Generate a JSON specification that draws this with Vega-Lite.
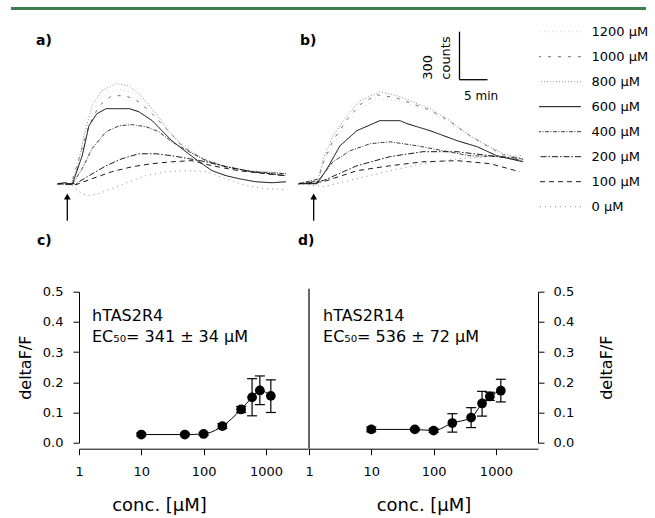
{
  "$schema": "https://vega.github.io/schema/vega-lite/v6.json",
  "autosize": {"type": "pad"},
  "padding": {"left": 9, "top": 6.7, "right": 0, "bottom": 0},
  "background": "white",
  "columns": 3,
  "align": "all",
  "bounds": "flush",
  "spacing": {"row": 62, "column": 0},
  "config": {
    "view": {"stroke": null},
    "font": "DejaVu Sans",
    "axis": {"domainColor": "#000", "tickColor": "#000", "labelColor": "#000", "titleColor": "#000", "titleFontWeight": "normal", "grid": false, "labelFont": "DejaVu Sans", "titleFont": "DejaVu Sans"},
    "text": {"color": "#000", "font": "DejaVu Sans"}
  },
  "datasets": {
    "traces": [
      {"p":"a","k":"1200 µM","t":0,"c":0},{"p":"a","k":"1200 µM","t":2.5,"c":-6},{"p":"a","k":"1200 µM","t":3.8,"c":120},{"p":"a","k":"1200 µM","t":5.2,"c":340},{"p":"a","k":"1200 µM","t":7,"c":500},{"p":"a","k":"1200 µM","t":9,"c":570},{"p":"a","k":"1200 µM","t":11.5,"c":590},{"p":"a","k":"1200 µM","t":14,"c":560},{"p":"a","k":"1200 µM","t":16.5,"c":480},{"p":"a","k":"1200 µM","t":19,"c":380},{"p":"a","k":"1200 µM","t":22,"c":260},{"p":"a","k":"1200 µM","t":25.5,"c":170},{"p":"a","k":"1200 µM","t":29.5,"c":115},{"p":"a","k":"1200 µM","t":34,"c":85},{"p":"a","k":"1200 µM","t":40.9,"c":65},
      {"p":"a","k":"1000 µM","t":0,"c":0},{"p":"a","k":"1000 µM","t":2.5,"c":-6},{"p":"a","k":"1000 µM","t":3.9,"c":156},{"p":"a","k":"1000 µM","t":5.7,"c":362},{"p":"a","k":"1000 µM","t":7.5,"c":487},{"p":"a","k":"1000 µM","t":9.8,"c":550},{"p":"a","k":"1000 µM","t":12.3,"c":550},{"p":"a","k":"1000 µM","t":14.6,"c":512},{"p":"a","k":"1000 µM","t":17,"c":437},{"p":"a","k":"1000 µM","t":19.5,"c":344},{"p":"a","k":"1000 µM","t":22.3,"c":237},{"p":"a","k":"1000 µM","t":25.9,"c":156},{"p":"a","k":"1000 µM","t":30.2,"c":106},{"p":"a","k":"1000 µM","t":34.8,"c":75},{"p":"a","k":"1000 µM","t":40.9,"c":50},
      {"p":"a","k":"800 µM","t":0,"c":0},{"p":"a","k":"800 µM","t":2.5,"c":-6},{"p":"a","k":"800 µM","t":3.6,"c":94},{"p":"a","k":"800 µM","t":4.8,"c":300},{"p":"a","k":"800 µM","t":6.25,"c":487},{"p":"a","k":"800 µM","t":8,"c":581},{"p":"a","k":"800 µM","t":10.5,"c":625},{"p":"a","k":"800 µM","t":12.9,"c":612},{"p":"a","k":"800 µM","t":15.2,"c":544},{"p":"a","k":"800 µM","t":17.7,"c":437},{"p":"a","k":"800 µM","t":20,"c":325},{"p":"a","k":"800 µM","t":23,"c":219},{"p":"a","k":"800 µM","t":26.6,"c":144},{"p":"a","k":"800 µM","t":30.2,"c":106},{"p":"a","k":"800 µM","t":33.75,"c":81},{"p":"a","k":"800 µM","t":37.3,"c":75},{"p":"a","k":"800 µM","t":40.9,"c":62},
      {"p":"a","k":"600 µM","t":0,"c":0},{"p":"a","k":"600 µM","t":1.5,"c":6},{"p":"a","k":"600 µM","t":2.7,"c":-6},{"p":"a","k":"600 µM","t":4.5,"c":175},{"p":"a","k":"600 µM","t":5.7,"c":362},{"p":"a","k":"600 µM","t":7.1,"c":437},{"p":"a","k":"600 µM","t":8.75,"c":469},{"p":"a","k":"600 µM","t":10.5,"c":469},{"p":"a","k":"600 µM","t":12.9,"c":469},{"p":"a","k":"600 µM","t":14.6,"c":450},{"p":"a","k":"600 µM","t":17,"c":394},{"p":"a","k":"600 µM","t":18.75,"c":331},{"p":"a","k":"600 µM","t":20.5,"c":269},{"p":"a","k":"600 µM","t":23,"c":200},{"p":"a","k":"600 µM","t":25.4,"c":137},{"p":"a","k":"600 µM","t":27.7,"c":81},{"p":"a","k":"600 µM","t":30.2,"c":50},{"p":"a","k":"600 µM","t":32.5,"c":31},{"p":"a","k":"600 µM","t":35.5,"c":12},{"p":"a","k":"600 µM","t":38.4,"c":6},{"p":"a","k":"600 µM","t":40.9,"c":12},
      {"p":"a","k":"400 µM","t":0,"c":0},{"p":"a","k":"400 µM","t":2.7,"c":-6},{"p":"a","k":"400 µM","t":4.5,"c":94},{"p":"a","k":"400 µM","t":6.25,"c":219},{"p":"a","k":"400 µM","t":8.75,"c":325},{"p":"a","k":"400 µM","t":11.1,"c":362},{"p":"a","k":"400 µM","t":13.4,"c":369},{"p":"a","k":"400 µM","t":15.9,"c":356},{"p":"a","k":"400 µM","t":18.2,"c":325},{"p":"a","k":"400 µM","t":20.5,"c":262},{"p":"a","k":"400 µM","t":23.6,"c":200},{"p":"a","k":"400 µM","t":26.6,"c":144},{"p":"a","k":"400 µM","t":30.2,"c":106},{"p":"a","k":"400 µM","t":34.8,"c":75},{"p":"a","k":"400 µM","t":40.9,"c":62},
      {"p":"a","k":"200 µM","t":0,"c":0},{"p":"a","k":"200 µM","t":3.4,"c":0},{"p":"a","k":"200 µM","t":5.7,"c":50},{"p":"a","k":"200 µM","t":8.75,"c":112},{"p":"a","k":"200 µM","t":11.6,"c":156},{"p":"a","k":"200 µM","t":14.6,"c":187},{"p":"a","k":"200 µM","t":17.7,"c":187},{"p":"a","k":"200 µM","t":20.5,"c":175},{"p":"a","k":"200 µM","t":23.6,"c":156},{"p":"a","k":"200 µM","t":26.6,"c":137},{"p":"a","k":"200 µM","t":30.2,"c":106},{"p":"a","k":"200 µM","t":34.8,"c":75},{"p":"a","k":"200 µM","t":40.9,"c":50},
      {"p":"a","k":"100 µM","t":0,"c":0},{"p":"a","k":"100 µM","t":3.4,"c":-6},{"p":"a","k":"100 µM","t":6.25,"c":31},{"p":"a","k":"100 µM","t":9.8,"c":75},{"p":"a","k":"100 µM","t":13.4,"c":106},{"p":"a","k":"100 µM","t":17,"c":125},{"p":"a","k":"100 µM","t":20.5,"c":137},{"p":"a","k":"100 µM","t":24.1,"c":144},{"p":"a","k":"100 µM","t":27.7,"c":112},{"p":"a","k":"100 µM","t":32.5,"c":81},{"p":"a","k":"100 µM","t":37.3,"c":62},{"p":"a","k":"100 µM","t":40.9,"c":50},
      {"p":"a","k":"0 µM","t":0,"c":0},{"p":"a","k":"0 µM","t":2.7,"c":-12},{"p":"a","k":"0 µM","t":3.9,"c":-50},{"p":"a","k":"0 µM","t":5.4,"c":-75},{"p":"a","k":"0 µM","t":7.5,"c":-62},{"p":"a","k":"0 µM","t":9.8,"c":-31},{"p":"a","k":"0 µM","t":12.9,"c":12},{"p":"a","k":"0 µM","t":15.9,"c":50},{"p":"a","k":"0 µM","t":19.5,"c":75},{"p":"a","k":"0 µM","t":23,"c":81},{"p":"a","k":"0 µM","t":26.6,"c":75},{"p":"a","k":"0 µM","t":30.2,"c":31},{"p":"a","k":"0 µM","t":33.75,"c":-12},{"p":"a","k":"0 µM","t":37.3,"c":-31},{"p":"a","k":"0 µM","t":40.9,"c":-37},
      {"p":"b","k":"1200 µM","t":0,"c":0},{"p":"b","k":"1200 µM","t":3.4,"c":0},{"p":"b","k":"1200 µM","t":4.5,"c":120},{"p":"b","k":"1200 µM","t":6.25,"c":250},{"p":"b","k":"1200 µM","t":8.75,"c":380},{"p":"b","k":"1200 µM","t":11.1,"c":470},{"p":"b","k":"1200 µM","t":14.1,"c":530},{"p":"b","k":"1200 µM","t":17.7,"c":520},{"p":"b","k":"1200 µM","t":20,"c":495},{"p":"b","k":"1200 µM","t":23.6,"c":450},{"p":"b","k":"1200 µM","t":27.1,"c":380},{"p":"b","k":"1200 µM","t":30.7,"c":295},{"p":"b","k":"1200 µM","t":34.3,"c":220},{"p":"b","k":"1200 µM","t":40.2,"c":150},
      {"p":"b","k":"1000 µM","t":0,"c":0},{"p":"b","k":"1000 µM","t":3.4,"c":0},{"p":"b","k":"1000 µM","t":4.5,"c":130},{"p":"b","k":"1000 µM","t":6.25,"c":270},{"p":"b","k":"1000 µM","t":8.75,"c":400},{"p":"b","k":"1000 µM","t":11.1,"c":495},{"p":"b","k":"1000 µM","t":14.1,"c":556},{"p":"b","k":"1000 µM","t":17.7,"c":535},{"p":"b","k":"1000 µM","t":20,"c":505},{"p":"b","k":"1000 µM","t":23.6,"c":460},{"p":"b","k":"1000 µM","t":27.1,"c":390},{"p":"b","k":"1000 µM","t":30.7,"c":300},{"p":"b","k":"1000 µM","t":34.3,"c":225},{"p":"b","k":"1000 µM","t":36.6,"c":180},{"p":"b","k":"1000 µM","t":40.2,"c":150},
      {"p":"b","k":"800 µM","t":0,"c":0},{"p":"b","k":"800 µM","t":3.4,"c":0},{"p":"b","k":"800 µM","t":4.5,"c":156},{"p":"b","k":"800 µM","t":6.25,"c":300},{"p":"b","k":"800 µM","t":8.75,"c":425},{"p":"b","k":"800 µM","t":11.1,"c":519},{"p":"b","k":"800 µM","t":14.6,"c":575},{"p":"b","k":"800 µM","t":17.7,"c":550},{"p":"b","k":"800 µM","t":20,"c":519},{"p":"b","k":"800 µM","t":23.6,"c":469},{"p":"b","k":"800 µM","t":27.1,"c":394},{"p":"b","k":"800 µM","t":30.7,"c":300},{"p":"b","k":"800 µM","t":34.3,"c":231},{"p":"b","k":"800 µM","t":36.6,"c":187},{"p":"b","k":"800 µM","t":40.2,"c":156},
      {"p":"b","k":"600 µM","t":0,"c":0},{"p":"b","k":"600 µM","t":3.4,"c":0},{"p":"b","k":"600 µM","t":5.2,"c":94},{"p":"b","k":"600 µM","t":7.5,"c":237},{"p":"b","k":"600 µM","t":10.5,"c":331},{"p":"b","k":"600 µM","t":14.6,"c":394},{"p":"b","k":"600 µM","t":18.2,"c":394},{"p":"b","k":"600 µM","t":19.5,"c":375},{"p":"b","k":"600 µM","t":23.6,"c":331},{"p":"b","k":"600 µM","t":28.4,"c":269},{"p":"b","k":"600 µM","t":32,"c":231},{"p":"b","k":"600 µM","t":35.5,"c":175},{"p":"b","k":"600 µM","t":40.2,"c":137},
      {"p":"b","k":"400 µM","t":0,"c":0},{"p":"b","k":"400 µM","t":3.9,"c":31},{"p":"b","k":"400 µM","t":6.25,"c":137},{"p":"b","k":"400 µM","t":9.3,"c":206},{"p":"b","k":"400 µM","t":12.9,"c":250},{"p":"b","k":"400 µM","t":16.4,"c":262},{"p":"b","k":"400 µM","t":21.25,"c":237},{"p":"b","k":"400 µM","t":25.9,"c":206},{"p":"b","k":"400 µM","t":30.7,"c":175},{"p":"b","k":"400 µM","t":35.5,"c":169},{"p":"b","k":"400 µM","t":40.2,"c":144},
      {"p":"b","k":"200 µM","t":0,"c":0},{"p":"b","k":"200 µM","t":4.5,"c":19},{"p":"b","k":"200 µM","t":10.5,"c":112},{"p":"b","k":"200 µM","t":16.4,"c":169},{"p":"b","k":"200 µM","t":22.3,"c":200},{"p":"b","k":"200 µM","t":28.4,"c":200},{"p":"b","k":"200 µM","t":34.3,"c":175},{"p":"b","k":"200 µM","t":40.2,"c":156},
      {"p":"b","k":"100 µM","t":0,"c":0},{"p":"b","k":"100 µM","t":4.5,"c":12},{"p":"b","k":"100 µM","t":10.5,"c":81},{"p":"b","k":"100 µM","t":16.4,"c":112},{"p":"b","k":"100 µM","t":22.3,"c":137},{"p":"b","k":"100 µM","t":28.4,"c":144},{"p":"b","k":"100 µM","t":34.3,"c":125},{"p":"b","k":"100 µM","t":39.6,"c":75},
      {"p":"b","k":"0 µM","t":0,"c":0},{"p":"b","k":"0 µM","t":4.5,"c":-19},{"p":"b","k":"0 µM","t":10.5,"c":31},{"p":"b","k":"0 µM","t":16.4,"c":81},{"p":"b","k":"0 µM","t":22.3,"c":125},{"p":"b","k":"0 µM","t":28.4,"c":156},{"p":"b","k":"0 µM","t":34.3,"c":169},{"p":"b","k":"0 µM","t":40.2,"c":175}
    ],
    "dr4": [
      {"r":"hTAS2R4","conc":10,"mean":0.027,"lo":0.022,"hi":0.032},
      {"r":"hTAS2R4","conc":50,"mean":0.027,"lo":0.023,"hi":0.031},
      {"r":"hTAS2R4","conc":100,"mean":0.029,"lo":0.024,"hi":0.034},
      {"r":"hTAS2R4","conc":200,"mean":0.055,"lo":0.047,"hi":0.063},
      {"r":"hTAS2R4","conc":400,"mean":0.11,"lo":0.1,"hi":0.12},
      {"r":"hTAS2R4","conc":600,"mean":0.15,"lo":0.089,"hi":0.212},
      {"r":"hTAS2R4","conc":800,"mean":0.173,"lo":0.126,"hi":0.221},
      {"r":"hTAS2R4","conc":1200,"mean":0.155,"lo":0.1,"hi":0.208}
    ],
    "dr14": [
      {"r":"hTAS2R14","conc":10,"mean":0.044,"lo":0.036,"hi":0.052},
      {"r":"hTAS2R14","conc":50,"mean":0.044,"lo":0.04,"hi":0.048},
      {"r":"hTAS2R14","conc":100,"mean":0.04,"lo":0.034,"hi":0.046},
      {"r":"hTAS2R14","conc":200,"mean":0.065,"lo":0.035,"hi":0.096},
      {"r":"hTAS2R14","conc":400,"mean":0.083,"lo":0.05,"hi":0.116},
      {"r":"hTAS2R14","conc":600,"mean":0.13,"lo":0.088,"hi":0.17},
      {"r":"hTAS2R14","conc":800,"mean":0.153,"lo":0.14,"hi":0.167},
      {"r":"hTAS2R14","conc":1200,"mean":0.172,"lo":0.135,"hi":0.21}
    ]
  },
  "concat": [
    {
      "width": 229, "height": 221,
      "layer": [
        {
          "data": {"name": "traces"},
          "transform": [{"filter": "datum.p === 'a'"}],
          "mark": {"type": "line"},
          "encoding": {
            "x": {"field": "t", "type": "quantitative", "scale": {"domain": [3.9286, 44.821], "nice": false, "zero": false}, "axis": null},
            "y": {"field": "c", "type": "quantitative", "scale": {"domain": [-287.5, 1093.75], "nice": false, "zero": false}, "axis": null},
            "color": {"field": "k", "type": "nominal", "scale": {"domain": ["1200 µM","1000 µM","800 µM","600 µM","400 µM","200 µM","100 µM","0 µM"], "range": ["#d4d4d4","#6e6e6e","#8c8c8c","#000000","#3a3a3a","#1a1a1a","#1a1a1a","#8c8c8c"]}, "legend": null},
            "strokeDash": {"field": "k", "type": "nominal", "scale": {"domain": ["1200 µM","1000 µM","800 µM","600 µM","400 µM","200 µM","100 µM","0 µM"], "range": [[1,3],[3,7],[1,2],[1,0],[4,1.5,1,1.5],[6,2,1.5,2],[5,4],[1,4]]}, "legend": null},
            "strokeWidth": {"field": "k", "type": "nominal", "scale": {"domain": ["1200 µM","1000 µM","800 µM","600 µM","400 µM","200 µM","100 µM","0 µM"], "range": [1,1,1,1.8,1.2,1.4,1.3,1.2]}, "legend": null}
          }
        },
        {
          "data": {"values": [{}]},
          "mark": {"type": "rule", "color": "#3c7d4b", "strokeWidth": 3},
          "encoding": {"x": {"datum": -8.21, "type": "quantitative", "axis": null}, "x2": {"datum": 105.18}, "y": {"datum": 1095.6, "type": "quantitative", "axis": null}}
        },
        {
          "data": {"values": [{}]},
          "mark": {"type": "rule", "color": "#000", "strokeWidth": 1.3},
          "encoding": {"x": {"datum": 1.84, "type": "quantitative", "axis": null}, "y": {"datum": -90, "type": "quantitative", "axis": null}, "y2": {"datum": -231}}
        },
        {
          "data": {"values": [{}]},
          "mark": {"type": "point", "shape": "triangle-up", "filled": true, "color": "#000", "size": 45, "opacity": 1},
          "encoding": {"x": {"datum": 1.84, "type": "quantitative", "axis": null}, "y": {"datum": -80, "type": "quantitative", "axis": null}}
        },
        {
          "data": {"values": [{}]},
          "mark": {"type": "text", "text": "a)", "fontWeight": "bold", "fontSize": 14, "align": "left", "baseline": "alphabetic"},
          "encoding": {"x": {"datum": -3.75, "type": "quantitative", "axis": null}, "y": {"datum": 869, "type": "quantitative", "axis": null}}
        }
      ]
    },
    {
      "width": 230, "height": 221,
      "layer": [
        {
          "data": {"name": "traces"},
          "transform": [{"filter": "datum.p === 'b'"}],
          "mark": {"type": "line"},
          "encoding": {
            "x": {"field": "t", "type": "quantitative", "scale": {"domain": [1.9643, 43.036], "nice": false, "zero": false}, "axis": null},
            "y": {"field": "c", "type": "quantitative", "scale": {"domain": [-287.5, 1093.75], "nice": false, "zero": false}, "axis": null},
            "color": {"field": "k", "type": "nominal", "scale": {"domain": ["1200 µM","1000 µM","800 µM","600 µM","400 µM","200 µM","100 µM","0 µM"], "range": ["#d4d4d4","#6e6e6e","#8c8c8c","#000000","#3a3a3a","#1a1a1a","#1a1a1a","#8c8c8c"]}, "legend": null},
            "strokeDash": {"field": "k", "type": "nominal", "scale": {"domain": ["1200 µM","1000 µM","800 µM","600 µM","400 µM","200 µM","100 µM","0 µM"], "range": [[1,3],[3,7],[1,2],[1,0],[4,1.5,1,1.5],[6,2,1.5,2],[5,4],[1,4]]}, "legend": null},
            "strokeWidth": {"field": "k", "type": "nominal", "scale": {"domain": ["1200 µM","1000 µM","800 µM","600 µM","400 µM","200 µM","100 µM","0 µM"], "range": [1,1,1,1.8,1.2,1.4,1.3,1.2]}, "legend": null}
          }
        },
        {
          "data": {"values": [{}]},
          "mark": {"type": "rule", "color": "#000", "strokeWidth": 1.3},
          "encoding": {"x": {"datum": 2.8, "type": "quantitative", "axis": null}, "y": {"datum": -90, "type": "quantitative", "axis": null}, "y2": {"datum": -231}}
        },
        {
          "data": {"values": [{}]},
          "mark": {"type": "point", "shape": "triangle-up", "filled": true, "color": "#000", "size": 45, "opacity": 1},
          "encoding": {"x": {"datum": 2.8, "type": "quantitative", "axis": null}, "y": {"datum": -80, "type": "quantitative", "axis": null}}
        },
        {
          "data": {"values": [{}]},
          "mark": {"type": "rule", "color": "#000", "strokeWidth": 1.3},
          "encoding": {"x": {"datum": 28.84, "type": "quantitative", "axis": null}, "y": {"datum": 650, "type": "quantitative", "axis": null}, "y2": {"datum": 950}}
        },
        {
          "data": {"values": [{}]},
          "mark": {"type": "rule", "color": "#000", "strokeWidth": 1.3},
          "encoding": {"x": {"datum": 28.84, "type": "quantitative", "axis": null}, "x2": {"datum": 33.84}, "y": {"datum": 650, "type": "quantitative", "axis": null}}
        },
        {
          "data": {"values": [{}]},
          "mark": {"type": "text", "text": "300", "fontSize": 13, "angle": 270, "align": "left", "baseline": "middle"},
          "encoding": {"x": {"datum": 23.2, "type": "quantitative", "axis": null}, "y": {"datum": 650, "type": "quantitative", "axis": null}}
        },
        {
          "data": {"values": [{}]},
          "mark": {"type": "text", "text": "counts", "fontSize": 13, "angle": 270, "align": "left", "baseline": "middle"},
          "encoding": {"x": {"datum": 26.5, "type": "quantitative", "axis": null}, "y": {"datum": 650, "type": "quantitative", "axis": null}}
        },
        {
          "data": {"values": [{}]},
          "mark": {"type": "text", "text": "5 min", "fontSize": 12, "align": "center", "baseline": "middle"},
          "encoding": {"x": {"datum": 32.7, "type": "quantitative", "axis": null}, "y": {"datum": 550, "type": "quantitative", "axis": null}}
        },
        {
          "data": {"values": [{}]},
          "mark": {"type": "text", "text": "b)", "fontWeight": "bold", "fontSize": 14, "align": "left", "baseline": "alphabetic"},
          "encoding": {"x": {"datum": 0.36, "type": "quantitative", "axis": null}, "y": {"datum": 869, "type": "quantitative", "axis": null}}
        }
      ]
    },
    {
      "width": 42, "height": 221,
      "data": {"values": [{"k":"1200 µM"},{"k":"1000 µM"},{"k":"800 µM"},{"k":"600 µM"},{"k":"400 µM"},{"k":"200 µM"},{"k":"100 µM"},{"k":"0 µM"}]},
      "mark": {"type": "rule"},
      "encoding": {
        "y": {"field": "k", "type": "nominal", "sort": null, "scale": {"type": "point", "domain": ["1200 µM","1000 µM","800 µM","600 µM","400 µM","200 µM","100 µM","0 µM"], "padding": 0.92}, "axis": {"orient": "right", "domain": false, "ticks": false, "labelPadding": 10, "labelFontSize": 13, "title": null}},
        "color": {"field": "k", "type": "nominal", "scale": {"domain": ["1200 µM","1000 µM","800 µM","600 µM","400 µM","200 µM","100 µM","0 µM"], "range": ["#d4d4d4","#6e6e6e","#8c8c8c","#000000","#3a3a3a","#1a1a1a","#1a1a1a","#8c8c8c"]}, "legend": null},
        "strokeDash": {"field": "k", "type": "nominal", "scale": {"domain": ["1200 µM","1000 µM","800 µM","600 µM","400 µM","200 µM","100 µM","0 µM"], "range": [[1,3],[3,7],[1,2],[1,0],[4,1.5,1,1.5],[6,2,1.5,2],[5,4],[1,4]]}, "legend": null},
        "strokeWidth": {"field": "k", "type": "nominal", "scale": {"domain": ["1200 µM","1000 µM","800 µM","600 µM","400 µM","200 µM","100 µM","0 µM"], "range": [1,1,1,1.8,1.2,1.4,1.3,1.2]}, "legend": null}
      }
    },
    {
      "width": 229, "height": 151,
      "resolve": {"axis": {"x": "independent", "y": "independent"}},
      "layer": [
        {
          "data": {"name": "dr4"},
          "encoding": {
            "x": {"field": "conc", "type": "quantitative", "title": "conc. [µM]", "scale": {"type": "log", "domain": [1, 4741], "nice": false}, "axis": {"orient": "bottom", "values": [1, 10, 100, 1000], "format": "d", "offset": 6, "tickSize": 6, "labelPadding": 11, "labelFlush": false, "labelOverlap": false, "labelFontSize": 13, "titleFontSize": 18, "titlePadding": 18, "titleX": 80}},
            "y": {"field": "mean", "type": "quantitative", "title": "deltaF/F", "scale": {"domain": [0, 0.5], "nice": false, "zero": false}, "axis": {"orient": "left", "values": [0, 0.1, 0.2, 0.3, 0.4, 0.5], "format": ".1f", "tickSize": 6, "labelPadding": 10, "labelOverlap": false, "labelFontSize": 13, "titleFontSize": 16, "titlePadding": 9}}
          },
          "layer": [
            {"mark": {"type": "line", "color": "#000", "strokeWidth": 1, "interpolate": "monotone"}},
            {"mark": {"type": "rule", "color": "#000", "strokeWidth": 1.2}, "encoding": {"y": {"field": "lo", "type": "quantitative", "title": "deltaF/F"}, "y2": {"field": "hi"}}},
            {"mark": {"type": "tick", "orient": "horizontal", "size": 10, "thickness": 1.2, "color": "#000", "opacity": 1}, "encoding": {"y": {"field": "lo", "type": "quantitative", "title": "deltaF/F"}}},
            {"mark": {"type": "tick", "orient": "horizontal", "size": 10, "thickness": 1.2, "color": "#000", "opacity": 1}, "encoding": {"y": {"field": "hi", "type": "quantitative", "title": "deltaF/F"}}},
            {"mark": {"type": "point", "filled": true, "size": 95, "color": "#000", "opacity": 1}}
          ]
        },
        {"data": {"values": [{}]}, "mark": {"type": "text", "text": "hTAS2R4", "fontSize": 16, "align": "left", "baseline": "alphabetic"}, "encoding": {"x": {"datum": 1.617, "type": "quantitative", "axis": null}, "y": {"datum": 0.404, "type": "quantitative", "axis": null}}},
        {"data": {"values": [{}]}, "mark": {"type": "text", "text": "EC₅₀= 341 ± 34 µM", "fontSize": 16, "align": "left", "baseline": "alphabetic"}, "encoding": {"x": {"datum": 1.617, "type": "quantitative", "axis": null}, "y": {"datum": 0.334, "type": "quantitative", "axis": null}}},
        {"data": {"values": [{}]}, "mark": {"type": "text", "text": "c)", "fontWeight": "bold", "fontSize": 14, "align": "left", "baseline": "alphabetic"}, "encoding": {"x": {"datum": 0.212, "type": "quantitative", "axis": null}, "y": {"datum": 0.656, "type": "quantitative", "axis": null}}}
      ]
    },
    {
      "width": 229, "height": 151,
      "resolve": {"axis": {"x": "independent", "y": "independent"}},
      "layer": [
        {
          "data": {"name": "dr14"},
          "encoding": {
            "x": {"field": "conc", "type": "quantitative", "title": "conc. [µM]", "scale": {"type": "log", "domain": [1, 4741], "nice": false}, "axis": {"orient": "bottom", "values": [1, 10, 100, 1000], "format": "d", "offset": 6, "tickSize": 6, "labelPadding": 11, "labelFlush": false, "labelOverlap": false, "labelFontSize": 13, "titleFontSize": 18, "titlePadding": 18}},
            "y": {"field": "mean", "type": "quantitative", "title": "deltaF/F", "scale": {"domain": [0, 0.5], "nice": false, "zero": false}, "axis": {"orient": "right", "values": [0, 0.1, 0.2, 0.3, 0.4, 0.5], "format": ".1f", "tickSize": 6, "labelPadding": 9, "labelOverlap": false, "labelFontSize": 13, "titleFontSize": 16, "titlePadding": 25, "titleAngle": 270, "titleBaseline": "top"}}
          },
          "layer": [
            {"mark": {"type": "line", "color": "#000", "strokeWidth": 1, "interpolate": "monotone"}},
            {"mark": {"type": "rule", "color": "#000", "strokeWidth": 1.2}, "encoding": {"y": {"field": "lo", "type": "quantitative", "title": "deltaF/F"}, "y2": {"field": "hi"}}},
            {"mark": {"type": "tick", "orient": "horizontal", "size": 10, "thickness": 1.2, "color": "#000", "opacity": 1}, "encoding": {"y": {"field": "lo", "type": "quantitative", "title": "deltaF/F"}}},
            {"mark": {"type": "tick", "orient": "horizontal", "size": 10, "thickness": 1.2, "color": "#000", "opacity": 1}, "encoding": {"y": {"field": "hi", "type": "quantitative", "title": "deltaF/F"}}},
            {"mark": {"type": "point", "filled": true, "size": 95, "color": "#000", "opacity": 1}}
          ]
        },
        {"data": {"values": [{}]}, "mark": {"type": "rule", "color": "#000", "strokeWidth": 1.2}, "encoding": {"x": {"datum": 1, "type": "quantitative", "axis": null}, "y": {"datum": 0.51, "type": "quantitative", "axis": null}, "y2": {"datum": -0.02}}},
        {"data": {"values": [{}]}, "mark": {"type": "text", "text": "hTAS2R14", "fontSize": 16, "align": "left", "baseline": "alphabetic"}, "encoding": {"x": {"datum": 1.68, "type": "quantitative", "axis": null}, "y": {"datum": 0.404, "type": "quantitative", "axis": null}}},
        {"data": {"values": [{}]}, "mark": {"type": "text", "text": "EC₅₀= 536 ± 72 µM", "fontSize": 16, "align": "left", "baseline": "alphabetic"}, "encoding": {"x": {"datum": 1.68, "type": "quantitative", "axis": null}, "y": {"datum": 0.334, "type": "quantitative", "axis": null}}},
        {"data": {"values": [{}]}, "mark": {"type": "text", "text": "d)", "fontWeight": "bold", "fontSize": 14, "align": "left", "baseline": "alphabetic"}, "encoding": {"x": {"datum": 0.666, "type": "quantitative", "axis": null}, "y": {"datum": 0.656, "type": "quantitative", "axis": null}}}
      ]
    }
  ]
}
